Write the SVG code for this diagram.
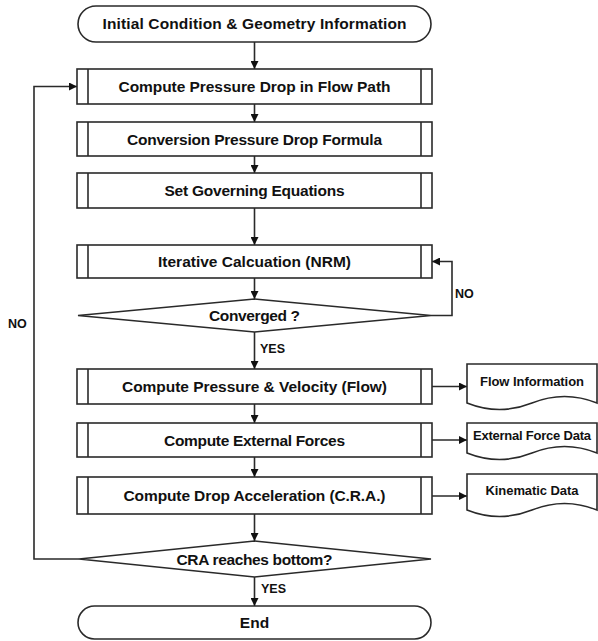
<svg xmlns="http://www.w3.org/2000/svg" width="598" height="641" viewBox="0 0 598 641">
<defs>
<style>
.shape{fill:#fff;stroke:#2a2a2a;stroke-width:1.6}
.inner{fill:none;stroke:#2a2a2a;stroke-width:1.6}
.conn{fill:none;stroke:#2a2a2a;stroke-width:1.6}
.t{font-family:"Liberation Sans",Arial,sans-serif;font-weight:bold;font-size:15.5px;fill:#111;text-anchor:middle}
.s{font-family:"Liberation Sans",Arial,sans-serif;font-weight:bold;font-size:13px;fill:#111;text-anchor:middle}
.l{font-family:"Liberation Sans",Arial,sans-serif;font-weight:bold;font-size:12.5px;fill:#111}
</style>
<marker id="ah" viewBox="0 0 10 10" refX="10" refY="5" markerWidth="8" markerHeight="8" markerUnits="userSpaceOnUse" orient="auto">
<path d="M0,0 L10,5 L0,10 Z" fill="#111"/>
</marker>
</defs>
<rect width="598" height="641" fill="#fff"/>

<g id="connectors">
<line class="conn" x1="254.5" y1="42" x2="254.5" y2="69" marker-end="url(#ah)"/>
<line class="conn" x1="254.5" y1="104" x2="254.5" y2="122" marker-end="url(#ah)"/>
<line class="conn" x1="254.5" y1="156" x2="254.5" y2="173" marker-end="url(#ah)"/>
<line class="conn" x1="254.5" y1="208" x2="254.5" y2="245" marker-end="url(#ah)"/>
<line class="conn" x1="254.5" y1="278" x2="254.5" y2="299" marker-end="url(#ah)"/>
<line class="conn" x1="254.5" y1="332" x2="254.5" y2="369" marker-end="url(#ah)"/>
<line class="conn" x1="254.5" y1="404" x2="254.5" y2="423" marker-end="url(#ah)"/>
<line class="conn" x1="254.5" y1="457" x2="254.5" y2="477" marker-end="url(#ah)"/>
<line class="conn" x1="254.5" y1="514" x2="254.5" y2="541" marker-end="url(#ah)"/>
<line class="conn" x1="254.5" y1="577" x2="254.5" y2="606" marker-end="url(#ah)"/>
<polyline class="conn" points="431,315.5 452,315.5 452,261.5 432,261.5" marker-end="url(#ah)"/>
<polyline class="conn" points="79,559 34,559 34,86.5 77,86.5" marker-end="url(#ah)"/>
<line class="conn" x1="432" y1="386.5" x2="467" y2="386.5" marker-end="url(#ah)"/>
<line class="conn" x1="432" y1="440" x2="467" y2="440" marker-end="url(#ah)"/>
<line class="conn" x1="432" y1="496" x2="467" y2="496" marker-end="url(#ah)"/>
<text class="l" x="260" y="353">YES</text>
<text class="l" x="261" y="593">YES</text>
<text class="l" x="455" y="298">NO</text>
<text class="l" x="8" y="328">NO</text>
</g>

<g id="start">
<rect class="shape" x="78" y="6" width="353" height="36" rx="18" ry="18"/>
<text class="t" x="254.5" y="29" textLength="304">Initial Condition &amp; Geometry Information</text>
</g>

<g id="p1">
<rect class="shape" x="77" y="69" width="355" height="35"/>
<line class="inner" x1="88" y1="69" x2="88" y2="104"/>
<line class="inner" x1="421" y1="69" x2="421" y2="104"/>
<text class="t" x="254.5" y="92" textLength="272">Compute Pressure Drop in Flow Path</text>
</g>

<g id="p2">
<rect class="shape" x="77" y="122" width="355" height="34"/>
<line class="inner" x1="88" y1="122" x2="88" y2="156"/>
<line class="inner" x1="421" y1="122" x2="421" y2="156"/>
<text class="t" x="254.5" y="144.5" textLength="255">Conversion Pressure Drop Formula</text>
</g>

<g id="p3">
<rect class="shape" x="77" y="173" width="355" height="35"/>
<line class="inner" x1="88" y1="173" x2="88" y2="208"/>
<line class="inner" x1="421" y1="173" x2="421" y2="208"/>
<text class="t" x="254.5" y="196" textLength="180">Set Governing Equations</text>
</g>

<g id="p4">
<rect class="shape" x="77" y="245" width="355" height="33"/>
<line class="inner" x1="88" y1="245" x2="88" y2="278"/>
<line class="inner" x1="421" y1="245" x2="421" y2="278"/>
<text class="t" x="254.5" y="267" textLength="193">Iterative Calcuation (NRM)</text>
</g>

<g id="d1">
<polygon class="shape" points="254.5,299 431,315.5 254.5,332 78,315.5"/>
<text class="t" x="254.5" y="321" textLength="91">Converged ?</text>
</g>

<g id="p5">
<rect class="shape" x="77" y="369" width="355" height="35"/>
<line class="inner" x1="88" y1="369" x2="88" y2="404"/>
<line class="inner" x1="421" y1="369" x2="421" y2="404"/>
<text class="t" x="254.5" y="392" textLength="265">Compute Pressure &amp; Velocity (Flow)</text>
</g>

<g id="p6">
<rect class="shape" x="77" y="423" width="355" height="34"/>
<line class="inner" x1="88" y1="423" x2="88" y2="457"/>
<line class="inner" x1="421" y1="423" x2="421" y2="457"/>
<text class="t" x="254.5" y="445.5" textLength="181">Compute External Forces</text>
</g>

<g id="p7">
<rect class="shape" x="77" y="477" width="355" height="37"/>
<line class="inner" x1="88" y1="477" x2="88" y2="514"/>
<line class="inner" x1="421" y1="477" x2="421" y2="514"/>
<text class="t" x="254.5" y="501" textLength="262">Compute Drop Acceleration (C.R.A.)</text>
</g>

<g id="d2">
<polygon class="shape" points="254.5,541 431,559 254.5,577 79,559"/>
<text class="t" x="254.5" y="564.5" textLength="156">CRA reaches bottom?</text>
</g>

<g id="end">
<rect class="shape" x="78" y="606" width="353" height="33" rx="16.5" ry="16.5"/>
<text class="t" x="254.5" y="628">End</text>
</g>

<g id="doc1">
<path class="shape" d="M467,364 H597 V403 Q564.5,390 532,403 T467,403 Z"/>
<text class="s" x="532" y="385.5" textLength="104">Flow Information</text>
</g>

<g id="doc2">
<path class="shape" d="M467,423 H597 V453 Q564.5,440 532,453 T467,453 Z"/>
<text class="s" x="532" y="439.5" textLength="118">External Force Data</text>
</g>

<g id="doc3">
<path class="shape" d="M467,474 H597 V510 Q564.5,497 532,510 T467,510 Z"/>
<text class="s" x="532" y="494.5" textLength="93">Kinematic Data</text>
</g>
</svg>
